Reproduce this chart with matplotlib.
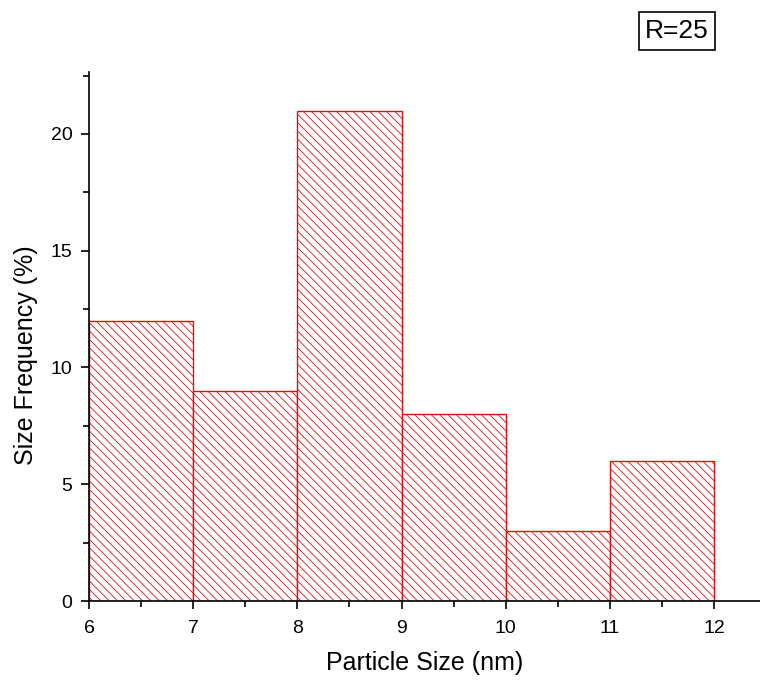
import matplotlib
matplotlib.use("Agg")
import matplotlib.pyplot as plt
from matplotlib.ticker import MultipleLocator

bin_left = [6, 7, 8, 9, 10, 11]
freq = [12, 9, 21, 8, 3, 6]
bin_width = 1
x_label = "Particle Size (nm)"
y_label = "Size Frequency (%)"
annot = "R=25"

plt.rcParams['font.family'] = ['Liberation Sans', 'DejaVu Sans']
plt.rcParams['hatch.color'] = '#eea0a0'
plt.rcParams['hatch.linewidth'] = 0.6

fig = plt.figure(figsize=(7.6, 6.81), dpi=100)
ax = fig.add_axes([89/760, 1-601/681, 1-89/760, (601-72)/681])

ax.bar(bin_left, freq, width=bin_width, align='edge', facecolor='white',
       edgecolor='#e01010', linewidth=1.0, hatch='\\\\\\\\')

ax.set_xlim(6, 12.44)
ax.set_ylim(0, 22.65)
ax.spines['top'].set_visible(False)
ax.spines['right'].set_visible(False)
for s in ['left', 'bottom']:
    ax.spines[s].set_linewidth(1.2)
ax.xaxis.set_major_locator(MultipleLocator(1))
ax.xaxis.set_minor_locator(MultipleLocator(0.5))
ax.yaxis.set_major_locator(MultipleLocator(5))
ax.yaxis.set_minor_locator(MultipleLocator(2.5))
ax.tick_params(which='major', direction='out', length=6, width=1.2, labelsize=14)
ax.tick_params(axis='x', which='major', pad=8)
ax.tick_params(axis='y', which='major', pad=6)
ax.tick_params(which='minor', direction='out', length=4, width=1.2)
ax.set_xlabel(x_label, fontsize=18, labelpad=10)
ax.set_ylabel(y_label, fontsize=18, labelpad=9)
ax.yaxis.label.set_y(0.465)

fig.text(677/760, 1-31/681, annot, fontsize=19, ha='center', va='center',
         bbox=dict(boxstyle='square,pad=0.25', facecolor='white', edgecolor='black', linewidth=1.2))

fig.savefig("out.png", dpi=100)
